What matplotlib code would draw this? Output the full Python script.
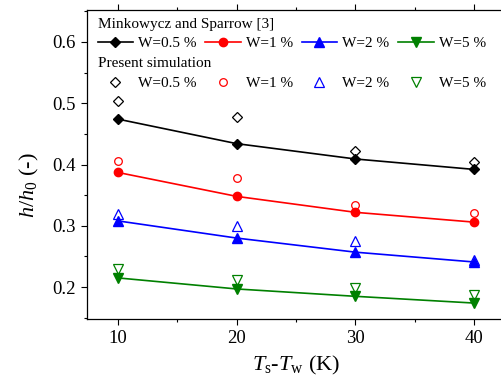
import matplotlib
matplotlib.use("Agg")
import matplotlib.pyplot as plt
from matplotlib.ticker import MultipleLocator

plt.rcParams['font.family'] = ['Liberation Serif', 'DejaVu Serif']
plt.rcParams['mathtext.fontset'] = 'custom'
plt.rcParams['mathtext.rm'] = 'Liberation Serif'
plt.rcParams['mathtext.it'] = 'Liberation Serif:italic'

# Data
dT = [10, 20, 30, 40]
series_labels = ['W=0.5 %', 'W=1 %', 'W=2 %', 'W=5 %']
mink = [
    [0.474, 0.434, 0.409, 0.392],
    [0.387, 0.348, 0.322, 0.306],
    [0.308, 0.280, 0.257, 0.241],
    [0.215, 0.197, 0.185, 0.174],
]
sim = [
    [0.504, 0.477, 0.422, 0.404],
    [0.406, 0.378, 0.334, 0.321],
    [0.319, 0.300, 0.275, 0.245],
    [0.229, 0.211, 0.199, 0.187],
]
colors = ['black', '#ff0000', '#0000ff', '#008000']
markers = ['D', 'o', '^', 'v']
msizes_f = [5.5, 6, 6.5, 6.5]
msizes_o = [5, 5.5, 6.5, 6.5]

fig = plt.figure(figsize=(5.02, 3.80), dpi=100)
ax = fig.add_axes([86.7/502, 61/380, (506-86.7)/502, (319-10)/380])

h1, h2 = [], []
for i in range(4):
    l, = ax.plot(dT, mink[i], color=colors[i], marker=markers[i], ms=msizes_f[i],
                 lw=1.2, mfc=colors[i], mec=colors[i], label=series_labels[i])
    h1.append(l)
    p, = ax.plot(dT, sim[i], linestyle='none', marker=markers[i], ms=msizes_o[i],
                 mfc='none', mec=colors[i], mew=0.9, label=series_labels[i])
    h2.append(p)

ax.set_xlim(7.36, 42.69)
ax.set_ylim(0.148, 0.652)
ax.xaxis.set_major_locator(MultipleLocator(10))
ax.xaxis.set_minor_locator(MultipleLocator(5))
ax.yaxis.set_major_locator(MultipleLocator(0.1))
ax.yaxis.set_minor_locator(MultipleLocator(0.05))
ax.spines['right'].set_visible(False)
ax.tick_params(which='both', direction='out', top=True, right=False, labelsize=13.5, width=0.8)
ax.tick_params(which='major', length=4.5)
ax.tick_params(which='minor', length=2.5)
for s in ax.spines.values():
    s.set_linewidth(0.9)

ax.set_xlabel(r'$T_\mathrm{s}$-$T_\mathrm{w}$ (K)', fontsize=16, labelpad=5)
ax.set_ylabel(r'$h/h_0$ (-)', fontsize=16)
ax.yaxis.set_label_coords(-0.11, 0.434)

common = dict(fontsize=11, title_fontsize=11, frameon=False, ncol=4, handlelength=2.3,
              handletextpad=0.33, columnspacing=0.6, borderaxespad=0, loc='upper left',
              alignment='left', labelspacing=0.4, borderpad=0.3)
leg1 = ax.legend(handles=h1, title='Minkowycz and Sparrow [3]', bbox_to_anchor=(0.015, 0.99), **common)
ax.add_artist(leg1)
leg2 = ax.legend(handles=h2, title='Present simulation', bbox_to_anchor=(0.015, 0.862), **common)

fig.savefig('out.png', dpi=100)
